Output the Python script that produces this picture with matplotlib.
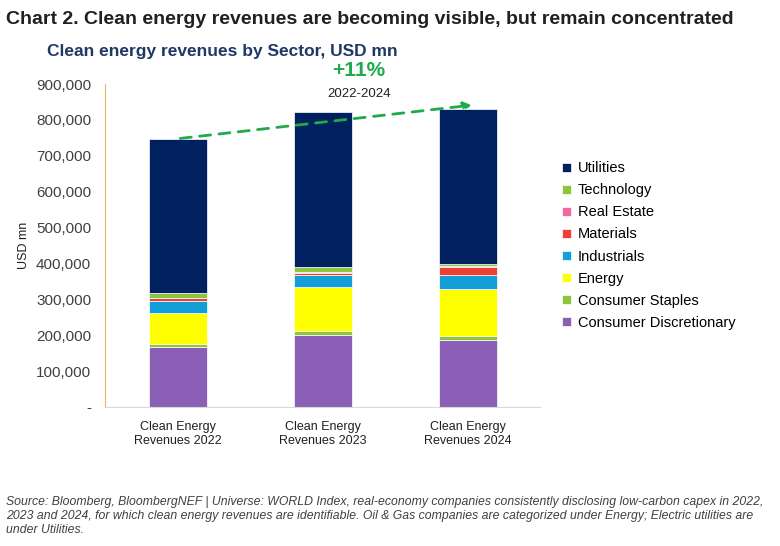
import matplotlib.pyplot as plt
import numpy as np

plt.rcParams['font.family'] = ['Liberation Sans', 'DejaVu Sans']

categories = ["Clean Energy\nRevenues 2022", "Clean Energy\nRevenues 2023", "Clean Energy\nRevenues 2024"]
sectors = ["Consumer Discretionary", "Consumer Staples", "Energy", "Industrials",
           "Materials", "Real Estate", "Technology", "Utilities"]
consumer_disc = [168000, 200000, 188000]
consumer_staples = [7000, 13000, 10000]
energy = [86000, 122000, 130000]
industrials = [35000, 32000, 39000]
materials = [7000, 7000, 23000]
real_estate = [1500, 1500, 1500]
technology = [13000, 15000, 8000]
utilities = [430000, 431000, 430000]
series = [consumer_disc, consumer_staples, energy, industrials, materials, real_estate, technology, utilities]
colors = ["#8B5FB5", "#8CC63F", "#FFFF00", "#139ED8", "#EE4035", "#F06AA0", "#8CC63F", "#002060"]

fig = plt.figure(figsize=(7.8, 5.46), dpi=100)
ax = fig.add_axes([105 / 780, 1 - 407 / 546, 435 / 780, 323 / 546])

x = np.arange(len(categories))
bottom = np.zeros(len(categories))
handles = []
for name, vals, c in zip(sectors, series, colors):
    h = ax.bar(x, vals, 0.4, bottom=bottom, color=c, edgecolor="white", linewidth=0.5, label=name)
    handles.append(h)
    bottom += np.array(vals)

ax.set_xlim(-0.5, 2.5)
ax.set_ylim(0, 900000)
ax.set_yticks(np.arange(0, 900001, 100000))
ax.set_yticklabels(["-"] + [f"{v:,}" for v in range(100000, 900001, 100000)], fontsize=11, color="#404040")
ax.set_xticks(x)
ax.set_xticklabels(categories, fontsize=9, color="#202020")
ax.tick_params(length=0, pad=10)
ax.set_ylabel("USD mn", fontsize=9, color="#202020")
for s in ["top", "right"]:
    ax.spines[s].set_visible(False)
ax.spines["left"].set_color("#F5B05A")
ax.spines["bottom"].set_color("#D9D9D9")

# trend arrow
ax.annotate("", xy=(2.05, 842000), xytext=(0, bottom[0]),
            arrowprops=dict(arrowstyle="-|>", color="#1FAA4B", lw=2, ls=(0, (4, 3)), mutation_scale=12))
ax.text(1.25, 910000, "+11%", fontsize=15, fontweight="bold", color="#1FAA4B", ha="center", va="bottom",
        clip_on=False)
ax.text(1.25, 855000, "2022-2024", fontsize=9.5, color="#202020", ha="center", va="bottom")

ax.legend(handles[::-1], sectors[::-1], loc="center left", bbox_to_anchor=(1.02, 0.5),
          frameon=False, fontsize=10.5, handlelength=0.6, handleheight=0.6, labelspacing=0.55, handletextpad=0.5)

fig.text(0.008, 0.965, "Chart 2. Clean energy revenues are becoming visible, but remain concentrated",
         fontsize=14, fontweight="bold", color="#202020", va="center")
fig.text(0.06, 0.905, "Clean energy revenues by Sector, USD mn", fontsize=12.5, fontweight="bold",
         color="#1F3864", va="center")
fig.text(0.008, 0.055, "Source: Bloomberg, BloombergNEF | Universe: WORLD Index, real-economy companies consistently "
         "disclosing low-carbon capex in 2022,\n2023 and 2024, for which clean energy revenues are identifiable. "
         "Oil & Gas companies are categorized under Energy; Electric utilities are\nunder Utilities.",
         fontsize=8.8, style="italic", color="#404040", va="center", linespacing=1.2)

fig.savefig("out.png", dpi=100)
